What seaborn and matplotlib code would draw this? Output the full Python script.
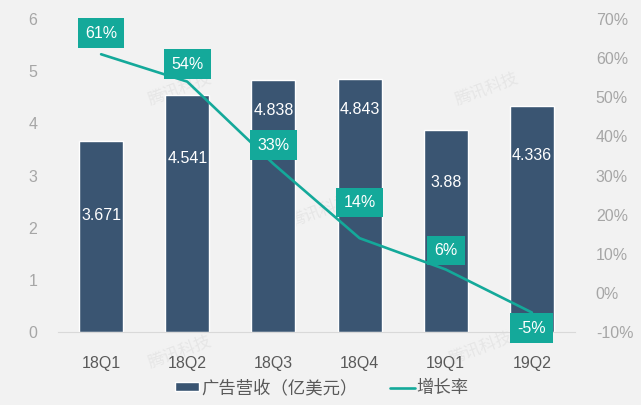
import seaborn as sns
import matplotlib.pyplot as plt
import pandas as pd
import numpy as np

quarters = ["18Q1", "18Q2", "18Q3", "18Q4", "19Q1", "19Q2"]
revenue = [3.671, 4.541, 4.838, 4.843, 3.88, 4.336]
growth = [61, 54, 33, 14, 6, -5]
rev_label_y = [2.24, 3.33, 4.25, 4.27, 2.87, 3.39]
growth_label_y = [66.4, 58.5, 37.8, 23.1, 10.9, -9]

bar_color = "#3A5572"
line_color = "#14A99A"
bg = "#F2F2F2"

sns.set_style("white")
plt.rcParams['font.family'] = ['Liberation Sans', 'Noto Sans CJK SC', 'DejaVu Sans']

df = pd.DataFrame({"quarter": quarters, "revenue": revenue, "growth": growth})

fig = plt.figure(figsize=(6.41, 4.05), dpi=100, facecolor=bg)
ax = fig.add_axes([0.0905, 0.180, 0.8065, 0.773])
ax.set_facecolor(bg)

# faint watermarks, behind the bars
for (x, y) in [(0.28, 0.78), (0.76, 0.78), (0.28, 0.13), (0.50, 0.48), (0.75, 0.14)]:
    ax.text(x, y, "腾讯科技", color="#E6E6E6", fontsize=12, rotation=20,
            ha="center", va="center", family=['Noto Sans CJK SC'],
            transform=fig.transFigure, zorder=0.5, clip_on=False)

sns.barplot(data=df, x="quarter", y="revenue", color=bar_color, width=0.51,
            saturation=1, ax=ax, label="广告营收（亿美元）")
if ax.get_legend() is not None:
    ax.get_legend().remove()
ax.set_ylim(0, 6)
ax.set_xlim(-0.5, 5.5)
ax.set_yticks(range(0, 7))
ax.set_xlabel("")
ax.set_ylabel("")
for s in ["top", "right", "left"]:
    ax.spines[s].set_visible(False)
ax.spines["bottom"].set_color("#D9D9D9")
ax.tick_params(axis="y", length=0, pad=15, labelsize=11.5, labelcolor="#A6A6A6")
ax.tick_params(axis="x", length=0, pad=17, labelsize=11.5, labelcolor="#595959")

for i, v in enumerate(revenue):
    ax.text(i, rev_label_y[i], f"{v:g}", ha="center", va="center",
            color="white", fontsize=11.5)

ax2 = ax.twinx()
sns.lineplot(data=df, x="quarter", y="growth", color=line_color, linewidth=1.9,
             sort=False, ax=ax2, label="增长率", legend=False)
ax2.set_ylim(-10, 70)
ax2.set_yticks(range(-10, 80, 10))
ax2.set_yticklabels([f"{t}%" for t in range(-10, 80, 10)])
ax2.set_ylabel("")
for s in ["top", "right", "left", "bottom"]:
    ax2.spines[s].set_visible(False)
ax2.tick_params(axis="y", length=0, pad=15, labelsize=11.5, labelcolor="#A6A6A6")

for i, g in enumerate(growth):
    ax2.text(i, growth_label_y[i], f"{g}%", ha="center", va="center",
             color="white", fontsize=11.5,
             bbox=dict(boxstyle="square,pad=0.45", fc=line_color, ec="none"))

h1, l1 = ax.get_legend_handles_labels()
h2, l2 = ax2.get_legend_handles_labels()
leg = fig.legend(h1 + h2, l1 + l2, loc="center", bbox_to_anchor=(0.502, 0.042),
                 ncol=2, frameon=False, fontsize=12.5, handlelength=1.4,
                 handleheight=0.42, handletextpad=0.1, columnspacing=1.9)
for t in leg.get_texts():
    t.set_color("#595959")
    t.set_family(['Noto Sans CJK SC', 'DejaVu Sans'])

fig.savefig("out.png", dpi=100, facecolor=bg)
